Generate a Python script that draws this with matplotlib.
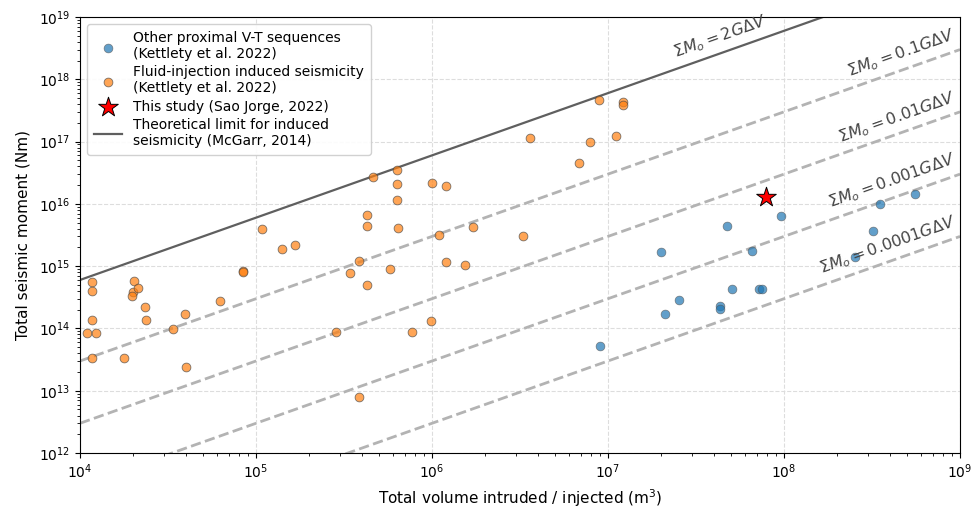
import numpy as np
import matplotlib
matplotlib.use("Agg")
import matplotlib.pyplot as plt

# shear modulus used for the reference lines (Pa)
G = 3e10

# fluid-injection induced seismicity (Kettlety et al. 2022)
inj_vol = [1.17e4, 1.166e4, 2.03e4, 2.01e4, 1.97e4, 2.14e4, 2.34e4, 2.37e4,
           1.166e4, 1.09e4, 1.24e4, 1.166e4, 1.77e4, 3.38e4, 3.95e4, 4.02e4,
           6.25e4, 8.4e4, 8.43e4, 1.08e5, 1.40e5, 1.67e5, 3.85e5, 3.44e5,
           4.29e5, 2.85e5, 3.85e5, 4.64e5, 6.32e5, 6.32e5, 6.35e5, 1.0e6,
           1.2e6, 1.72e6, 6.41e5, 4.29e5, 4.29e5, 3.59e6, 6.87e6, 7.9e6,
           1.11e7, 8.89e6, 1.21e7, 1.21e7, 1.09e6, 3.3e6, 5.75e5, 1.2e6,
           1.54e6, 9.9e5, 7.7e5]
inj_mom = [5.64e14, 4.0e14, 5.85e14, 3.86e14, 3.37e14, 4.42e14, 2.21e14, 1.36e14,
           1.37e14, 8.37e13, 8.37e13, 3.4e13, 3.4e13, 9.7e13, 1.71e14, 2.44e13,
           2.74e14, 8.47e14, 8.07e14, 3.95e15, 1.89e15, 2.19e15, 1.21e15, 7.78e14,
           4.99e14, 8.7e13, 7.87e12, 2.7e16, 3.46e16, 2.07e16, 1.17e16, 2.16e16,
           1.96e16, 4.31e15, 4.15e15, 6.64e15, 4.42e15, 1.14e17, 4.54e16, 9.75e16,
           1.24e17, 4.6e17, 4.27e17, 3.83e17, 3.17e15, 3.05e15, 8.9e14, 1.16e15,
           1.06e15, 1.31e14, 8.8e13]

# other proximal volcano-tectonic sequences (Kettlety et al. 2022)
vt_vol = [2.01e7, 2.11e7, 9.04e6, 4.72e7, 9.57e7, 6.58e7, 5.05e7, 2.52e7,
          4.33e7, 4.33e7, 7.25e7, 7.5e7, 3.51e8, 5.53e8, 3.21e8, 2.53e8]
vt_mom = [1.69e15, 1.73e14, 5.3e13, 4.47e15, 6.47e15, 1.77e15, 4.3e14, 2.9e14,
          2.3e14, 2.03e14, 4.35e14, 4.35e14, 9.86e15, 1.46e16, 3.72e15, 1.39e15]

# this study
sj_vol = [7.9e7]
sj_mom = [1.31e16]

# fractions of G dV for the dashed reference lines
fractions = [0.1, 0.01, 0.001, 0.0001]
frac_labels = ["0.1", "0.01", "0.001", "0.0001"]

fig = plt.figure(figsize=(9.72, 5.07), dpi=100)
ax = fig.add_axes([80 / 972, 1 - 453 / 507, 880 / 972, 436 / 507])
ax.set_xscale("log")
ax.set_yscale("log")
ax.set_xlim(1e4, 1e9)
ax.set_ylim(1e12, 1e19)

ax.grid(True, which="major", linestyle="--", color="#dddddd", linewidth=0.8)
ax.set_axisbelow(True)

xs = np.logspace(4, 9, 50)
ax.plot(xs, 2 * G * xs, color="#5f5f5f", lw=1.6, zorder=2,
        label="Theoretical limit for induced\nseismicity (McGarr, 2014)")
for f in fractions:
    ax.plot(xs, f * G * xs, color="#b3b3b3", lw=2, ls="--", zorder=2)

ax.scatter(vt_vol, vt_mom, s=40, color="tab:blue", alpha=0.7,
           edgecolors="#555555", linewidths=0.5, zorder=3,
           label="Other proximal V-T sequences\n(Kettlety et al. 2022)")
ax.scatter(inj_vol, inj_mom, s=40, color="tab:orange", alpha=0.7,
           edgecolors="#444444", linewidths=0.6, zorder=3,
           label="Fluid-injection induced seismicity\n(Kettlety et al. 2022)")
ax.scatter(sj_vol, sj_mom, s=220, marker="*", color="red",
           edgecolors="black", linewidths=0.7, zorder=4,
           label="This study (Sao Jorge, 2022)")

# rotation of a slope-1 line in display space
fig.canvas.draw()
p1 = ax.transData.transform((1e6, 1e15))
p2 = ax.transData.transform((1e7, 1e16))
angle = np.degrees(np.arctan2(p2[1] - p1[1], p2[0] - p1[0]))

ax.text(8.3e7, 2 * G * 8.3e7 * 1.3, r"$\Sigma M_o = 2G\Delta V$",
        rotation=angle, rotation_mode="anchor", ha="right", va="bottom",
        fontsize=11.5, color="#444444", zorder=5)
for f, lab in zip(fractions, frac_labels):
    ax.text(9.8e8, f * G * 9.8e8 * 1.3, r"$\Sigma M_o = " + lab + r"G\Delta V$",
            rotation=angle, rotation_mode="anchor", ha="right", va="bottom",
            fontsize=11.5, color="#444444", zorder=5)

handles, labels = ax.get_legend_handles_labels()
order = [1, 2, 3, 0]
ax.legend([handles[i] for i in order], [labels[i] for i in order],
          loc="upper left", fontsize=10, framealpha=0.9,
          handletextpad=0.8, labelspacing=0.3, borderpad=0.5)

ax.set_xlabel("Total volume intruded / injected (m$^3$)", fontsize=11)
ax.set_ylabel("Total seismic moment (Nm)", fontsize=11, labelpad=6)
ax.tick_params(labelsize=10)

fig.savefig("out.png", dpi=100)
